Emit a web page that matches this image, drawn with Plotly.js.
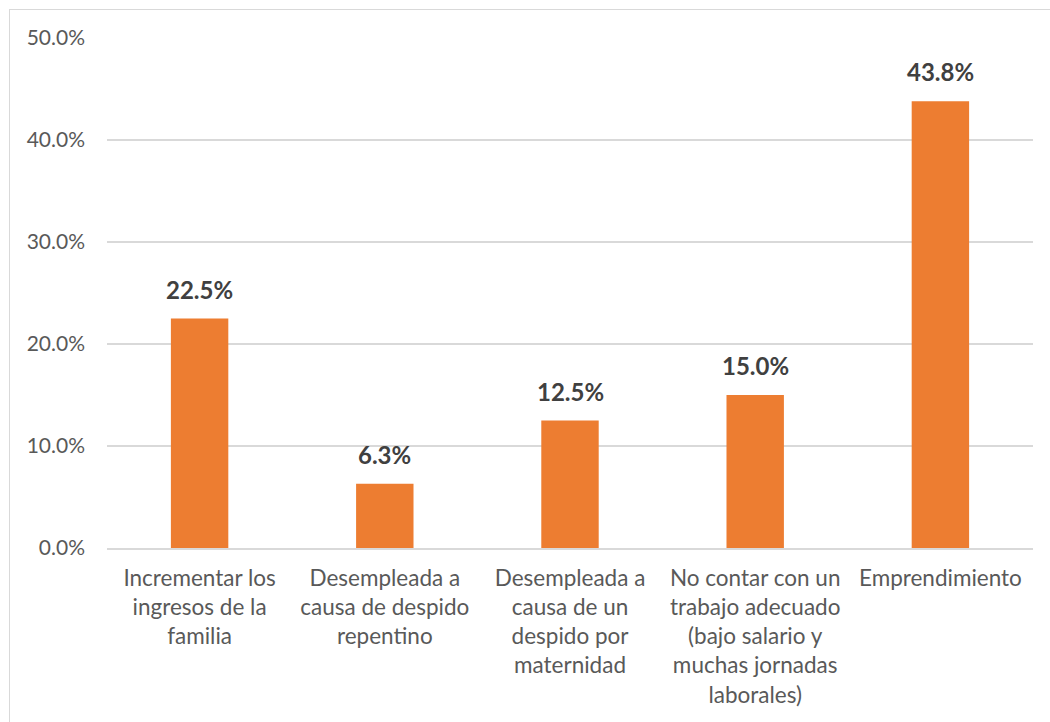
<!DOCTYPE html>
<html>
<head>
<meta charset="utf-8">
<script src="https://cdn.plot.ly/plotly-3.0.1.min.js"></script>
<style>
  html, body { margin: 0; padding: 0; background: #ffffff; }
  #wrap { position: relative; width: 1050px; height: 722px; overflow: hidden; }
  #chart { position: absolute; left: 0; top: 0; width: 1050px; height: 722px; }
  #frame { position: absolute; left: 9px; top: 9px; width: 1200px; height: 900px;
           border: 1px solid #d9d9d9; box-sizing: border-box; pointer-events: none; }
</style>
</head>
<body>
<div id="wrap">
  <div id="chart"></div>
  <div id="frame"></div>
</div>
<script>
const categories = [
  "Incrementar los<br>ingresos de la<br>familia",
  "Desempleada a<br>causa de despido<br>repentino",
  "Desempleada a<br>causa de un<br>despido por<br>maternidad",
  "No contar con un<br>trabajo adecuado<br>(bajo salario y<br>muchas jornadas<br>laborales)",
  "Emprendimiento"
];
const values = [22.5, 6.3, 12.5, 15.0, 43.8];
const valueLabels = ["22.5%", "6.3%", "12.5%", "15.0%", "43.8%"];
const tickVals = [0, 10, 20, 30, 40, 50];
const tickText = ["0.0%", "10.0%", "20.0%", "30.0%", "40.0%", "50.0%"];

const FONT = "Lato, 'Open Sans', sans-serif";

const trace = {
  type: "bar",
  x: categories,
  y: values,
  marker: { color: "#ED7D31" },
  width: 0.31,
  hoverinfo: "skip"
};

const annotations = categories.map((c, i) => ({
  x: c, y: values[i], xref: "x", yref: "y",
  text: "<b>" + valueLabels[i] + "</b>",
  showarrow: false, yanchor: "bottom", yshift: 13,
  font: { family: FONT, size: 24, color: "#404040" }
}));

const layout = {
  width: 1050, height: 722,
  margin: { l: 107, r: 17, t: 38, b: 174 },
  paper_bgcolor: "rgba(0,0,0,0)",
  plot_bgcolor: "#ffffff",
  showlegend: false,
  bargap: 0.69,
  xaxis: {
    type: "category",
    showgrid: false,
    showline: true, linecolor: "#d9d9d9", linewidth: 1.5,
    ticks: "", ticklabelstandoff: 9,
    tickangle: 0,
    tickfont: { family: FONT, size: 22.5, color: "#595959" },
    automargin: false
  },
  yaxis: {
    range: [0, 50],
    tickvals: tickVals, ticktext: tickText,
    showgrid: true, gridcolor: "#d9d9d9", gridwidth: 1.3,
    zeroline: false, showline: false,
    ticks: "", ticklabelstandoff: 21,
    tickfont: { family: FONT, size: 21, color: "#595959" },
    automargin: false
  },
  annotations: annotations
};

Plotly.newPlot("chart", [trace], layout, { staticPlot: true, displayModeBar: false });
</script>
</body>
</html>
